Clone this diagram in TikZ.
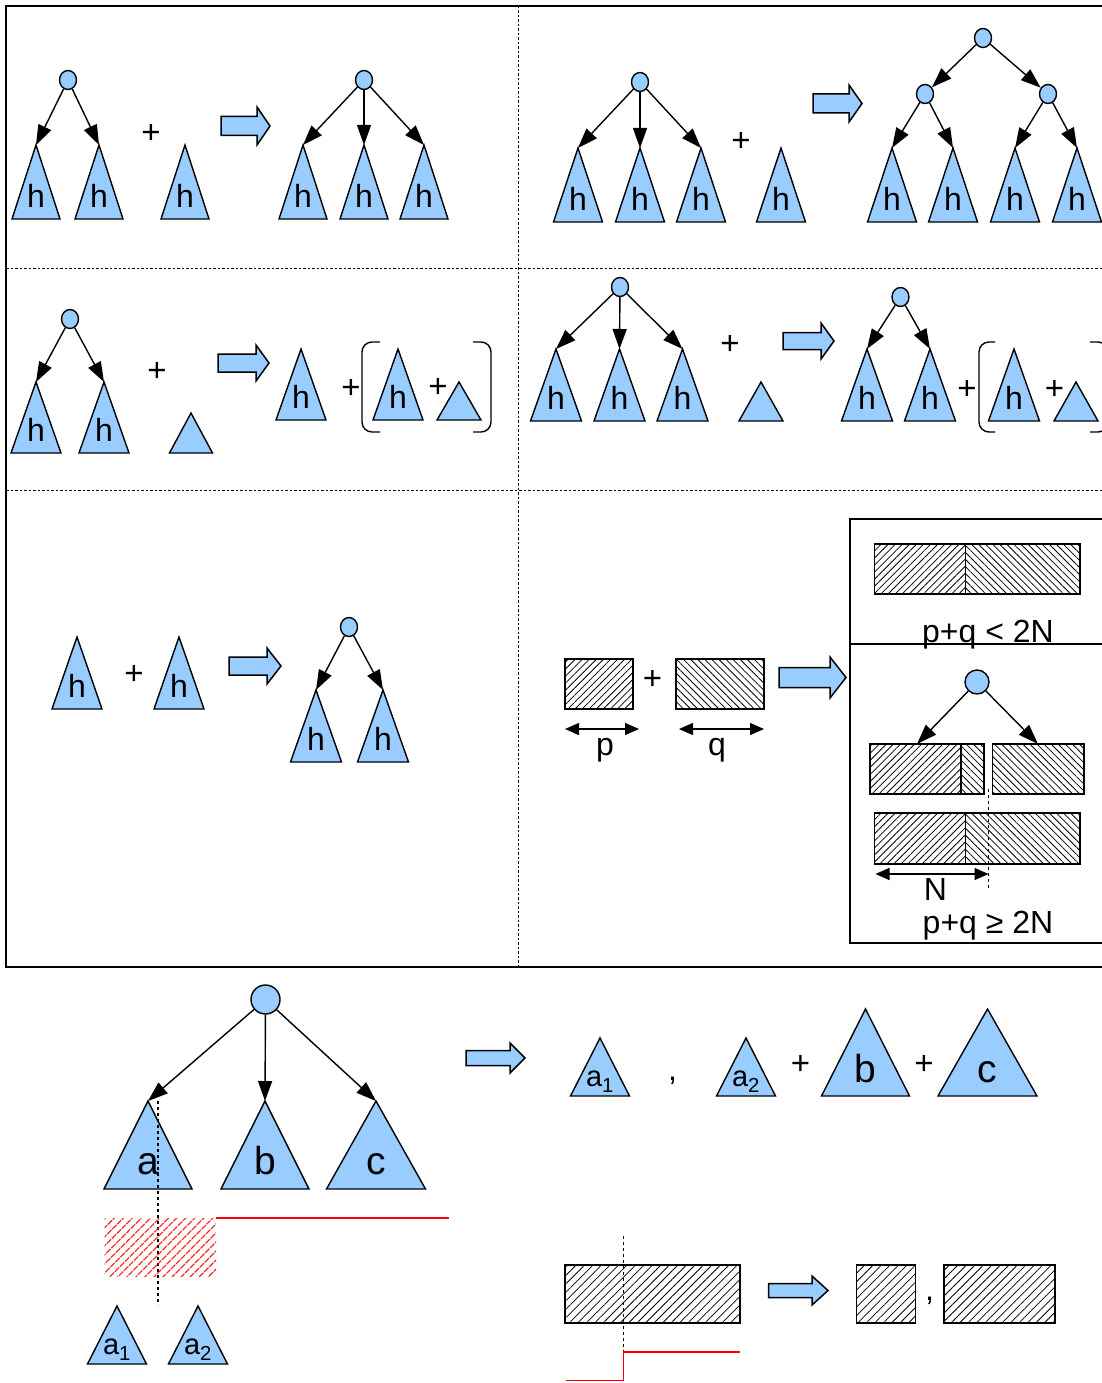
\documentclass[tikz,border=0pt]{standalone}
\usepackage{fontspec}
\setmainfont{Liberation Sans}
\usetikzlibrary{arrows.meta, shapes.geometric, patterns.meta}
\definecolor{nodeblue}{HTML}{99CCFF}

% subtree: [label style]{name}{apex x}{apex y}{half width}{height}{label}
\newcommand{\subtree}[7][hlbl]{%
  \draw[trifill] (#3,#4) -- ++(#5,#6) -- ++(-2*#5,0) -- cycle;
  \coordinate (#2) at (#3,#4);
  \node[#1] (#2l) at (#3,{#4+0.84*#6}) {#7};}
% block arrow: {x left}{x tip}{y centre}{head half}{body half}{head length}
\newcommand{\fatarrow}[6]{%
  \draw[bigarr] (#1,#3-#5) -- (#2-#6,#3-#5) -- (#2-#6,#3-#4) -- (#2,#3)
    -- (#2-#6,#3+#4) -- (#2-#6,#3+#5) -- (#1,#3+#5) -- cycle;}

\begin{document}
\begin{tikzpicture}[x=1pt, y=-1pt,
  outer/.style={line width=1.5pt},
  sepline/.style={line width=1pt, dash pattern=on 2.5pt off 2pt},
  trifill/.style={draw, line width=1.4pt, fill=nodeblue},
  root/.style={ellipse, draw, line width=1.4pt, fill=nodeblue, inner sep=0pt, minimum width=17pt, minimum height=19pt},
  bigroot/.style={circle, draw, line width=1.4pt, fill=nodeblue, inner sep=0pt, minimum size=#1},
  link/.style={line width=1.4pt, -{Triangle[length=20pt, width=14pt]}},
  span/.style={line width=1.4pt, {Triangle[length=14pt, width=12pt]}-{Triangle[length=14pt, width=12pt]}},
  bigarr/.style={draw, line width=1.5pt, fill=nodeblue, line join=miter},
  brk/.style={line width=1.4pt, rounded corners=10pt},
  cutline/.style={line width=1.1pt, dash pattern=on 3pt off 3pt},
  hne/.style={draw, line width=1.5pt, pattern={Lines[angle=45, distance=5pt, line width=0.8pt]}},
  hnw/.style={draw, line width=1.5pt, pattern={Lines[angle=-45, distance=5pt, line width=0.8pt]}},
  hsp/.style={draw, line width=1.5pt, pattern={Lines[angle=45, distance=6pt, line width=0.8pt]}},
  redhatch/.style={pattern={Lines[angle=45, distance=6.5pt, line width=1.4pt]}, pattern color=red},
  hlbl/.style={font=\fontsize{32}{36}\selectfont, inner sep=0pt, anchor=base},
  biglbl/.style={font=\fontsize{39}{44}\selectfont, inner sep=0pt, anchor=base},
  sublbl/.style={font=\fontsize{29}{34}\selectfont, inner sep=0pt, anchor=base},
  plus/.style={font=\fontsize{33}{36}\selectfont, inner sep=0pt},
  txt/.style={font=\fontsize{32}{36}\selectfont, inner sep=0pt, anchor=base}]
\useasboundingbox (0,0) rectangle (1102,1383);
\clip (0,0) rectangle (1102,1383);

% frame and separators
\draw[outer] (6,6) rectangle (1120,967);
\draw[sepline] (518,6) -- (518,967);
\draw[sepline] (6,268) -- (1102,268);
\draw[sepline] (6,490) -- (1102,490);

% row 1, left
\node[root] (r1) at (68,80) {};
\subtree{t11}{36}{145}{24}{74}{h}
\subtree{t12}{99}{145}{24}{74}{h}
\node[plus] (p1) at (151,134) {+};
\subtree{t13}{185}{145}{24}{74}{h}
\fatarrow{221}{270}{126}{19}{9.5}{13}
\node[root] (r2) at (364,80) {};
\subtree{t14}{303}{145}{24}{74}{h}
\subtree{t15}{364}{145}{24}{74}{h}
\subtree{t16}{424}{145}{24}{74}{h}
\draw[link] (r1) -- (t11);
\draw[link] (r1) -- (t12);
\draw[link] (r2) -- (t14);
\draw[link] (r2) -- (t15);
\draw[link] (r2) -- (t16);

% row 1, right
\node[root] (r3) at (640,82) {};
\subtree{t21}{578}{148}{24.5}{74}{h}
\subtree{t22}{640}{148}{24.5}{74}{h}
\subtree{t23}{701}{148}{24.5}{74}{h}
\node[plus] (p2) at (741,142) {+};
\subtree{t24}{781}{148}{24.5}{74}{h}
\fatarrow{813}{862}{103.5}{18.5}{9.5}{13}
\node[root] (r4) at (983,38) {};
\node[root] (r5) at (925,94) {};
\node[root] (r6) at (1048,94) {};
\subtree{t25}{892}{148}{24.5}{74}{h}
\subtree{t26}{953}{148}{24.5}{74}{h}
\subtree{t27}{1015}{148}{24.5}{74}{h}
\subtree{t28}{1077}{148}{24.5}{74}{h}
\draw[link] (r3) -- (t21);
\draw[link] (r3) -- (t22);
\draw[link] (r3) -- (t23);
\draw[link] (r4) -- (r5);
\draw[link] (r4) -- (r6);
\draw[link] (r5) -- (t25);
\draw[link] (r5) -- (t26);
\draw[link] (r6) -- (t27);
\draw[link] (r6) -- (t28);

% row 2, left
\node[root] (r7) at (70,319) {};
\subtree{t31}{36}{382}{25}{71}{h}
\subtree{t32}{104}{382}{25}{71}{h}
\node[plus] (p3) at (157,372) {+};
\subtree{t33}{191}{413}{21.5}{40}{}
\fatarrow{218}{269}{363}{18}{9}{13}
\subtree{t34}{301}{349}{25}{71}{h}
\node[plus] (p4) at (351,389) {+};
\draw[brk] (380,342) -- (362,342) -- (362,432) -- (380,432);
\subtree{t35}{398}{349}{25}{71}{h}
\node[plus] (p5) at (438,388) {+};
\subtree{t36}{459}{382}{22}{38}{}
\draw[brk] (473,342) -- (491,342) -- (491,432) -- (473,432);
\draw[link] (r7) -- (t31);
\draw[link] (r7) -- (t32);

% row 2, right
\node[root] (r8) at (620,287) {};
\subtree{t41}{556}{349}{25.5}{72}{h}
\subtree{t42}{619.5}{349}{25.5}{72}{h}
\subtree{t43}{682.5}{349}{25.5}{72}{h}
\node[plus] (p6) at (730,345) {+};
\subtree{t44}{761}{382}{22}{39}{}
\fatarrow{783}{834}{341}{18}{8.5}{13}
\node[root] (r9) at (900.5,297) {};
\subtree{t45}{867}{349}{25.5}{72}{h}
\subtree{t46}{930}{349}{25.5}{72}{h}
\node[plus] (p7) at (967,390) {+};
\draw[brk] (995,342) -- (979,342) -- (979,432) -- (995,432);
\subtree{t47}{1014}{349}{25.5}{72}{h}
\node[plus] (p8) at (1054.5,390) {+};
\subtree{t48}{1076}{382}{22}{39}{}
\draw[brk] (1090,342) -- (1108,342) -- (1108,432) -- (1090,432);
\draw[link] (r8) -- (t41);
\draw[link] (r8) -- (t42);
\draw[link] (r8) -- (t43);
\draw[link] (r9) -- (t45);
\draw[link] (r9) -- (t46);

% row 3, left
\subtree{t51}{77}{637}{25}{72}{h}
\node[plus] (p9) at (134,675) {+};
\subtree{t52}{179}{637}{25}{72}{h}
\fatarrow{229}{281}{666}{18}{9}{14}
\node[root] (r10) at (349,627) {};
\subtree{t53}{316}{690}{25.5}{72}{h}
\subtree{t54}{383}{690}{25.5}{72}{h}
\draw[link] (r10) -- (t53);
\draw[link] (r10) -- (t54);

% row 3, right
\draw[hne] (565,659) rectangle (633,709);
\node[plus] (p10) at (652.5,680) {+};
\draw[hnw] (676,659) rectangle (764,709);
\coordinate (pa) at (565,729);
\coordinate (pb) at (639,729);
\coordinate (qa) at (679,729);
\coordinate (qb) at (764,729);
\draw[span] (pa) -- (pb);
\draw[span] (qa) -- (qb);
\node[txt] (lp) at (605,755) {p};
\node[txt] (lq) at (717,755) {q};
\fatarrow{779}{846}{677.5}{20.5}{10}{16}
\draw[outer] (850,519) rectangle (1120,943);
\draw[outer] (850,644) -- (1120,644);
\draw[hne] (874.5,544) rectangle (965.5,594);
\draw[hnw] (965.5,544) rectangle (1080,594);
\node[txt] (lt1) at (988,642) {p+q < 2N};
\node[bigroot=24pt] (r11) at (977,682) {};
\draw[hne] (870,744) rectangle (961,794);
\draw[hnw] (961,744) rectangle (984,794);
\draw[hnw] (992.5,744) rectangle (1084,794);
\coordinate (s1) at (917,744);
\coordinate (s2) at (1038,744);
\draw[link] (r11) -- (s1);
\draw[link] (r11) -- (s2);
\draw[hne] (874.5,813) rectangle (965.5,864);
\draw[hnw] (965.5,813) rectangle (1080,864);
\draw[cutline] (988.5,789) -- (988.5,888);
\coordinate (na) at (875.5,874);
\coordinate (nb) at (988.5,874);
\draw[span] (na) -- (nb);
\node[txt] (ln) at (935.5,900) {N};
\node[txt] (lt2) at (988,933) {p+q ≥ 2N};

% bottom, left
\node[bigroot=29pt] (r12) at (265.5,999.5) {};
\subtree[biglbl]{ta}{148}{1101}{44}{88}{a}
\subtree[biglbl]{tb}{265}{1101}{44}{88}{b}
\subtree[biglbl]{tc}{376}{1101}{49.5}{88}{c}
\draw[link] (r12) -- (ta);
\draw[link] (r12) -- (tb);
\draw[link] (r12) -- (tc);
\draw[cutline] (158,1101) -- (158,1305);
\fill[redhatch] (104.5,1218) rectangle (216,1276);
\draw[red, line width=1.4pt] (216,1218) -- (448.5,1218);
\subtree[sublbl]{ta1}{117}{1306}{29.5}{58}{a\textsubscript{1}}
\subtree[sublbl]{ta2}{198}{1306}{29.5}{58}{a\textsubscript{2}}
\fatarrow{466}{525}{1058}{15}{7.5}{15}

% bottom, right
\subtree[sublbl]{tb1}{600}{1038}{29.5}{58}{a\textsubscript{1}}
\node[txt] (c1) at (672.5,1080) {,};
\subtree[sublbl]{tb2}{746}{1038}{29.5}{58}{a\textsubscript{2}}
\node[plus] (p11) at (800.5,1065) {+};
\subtree[biglbl]{tbb}{865.5}{1009}{44}{87}{b}
\node[plus] (p12) at (924,1065) {+};
\subtree[biglbl]{tbc}{987.5}{1009}{49.5}{87}{c}
\draw[hsp] (565,1265) rectangle (740,1323);
\draw[cutline] (623.5,1236) -- (623.5,1352);
\draw[red, line width=1.4pt] (565.5,1380.5) -- (623.5,1380.5) -- (623.5,1352) -- (740,1352);
\fatarrow{768.5}{828}{1290.5}{14.5}{7}{16}
\draw[hsp] (856.5,1265) rectangle (915.5,1323);
\node[txt] (c2) at (929.5,1300) {,};
\draw[hsp] (944,1265) rectangle (1055,1323);
\end{tikzpicture}
\end{document}
